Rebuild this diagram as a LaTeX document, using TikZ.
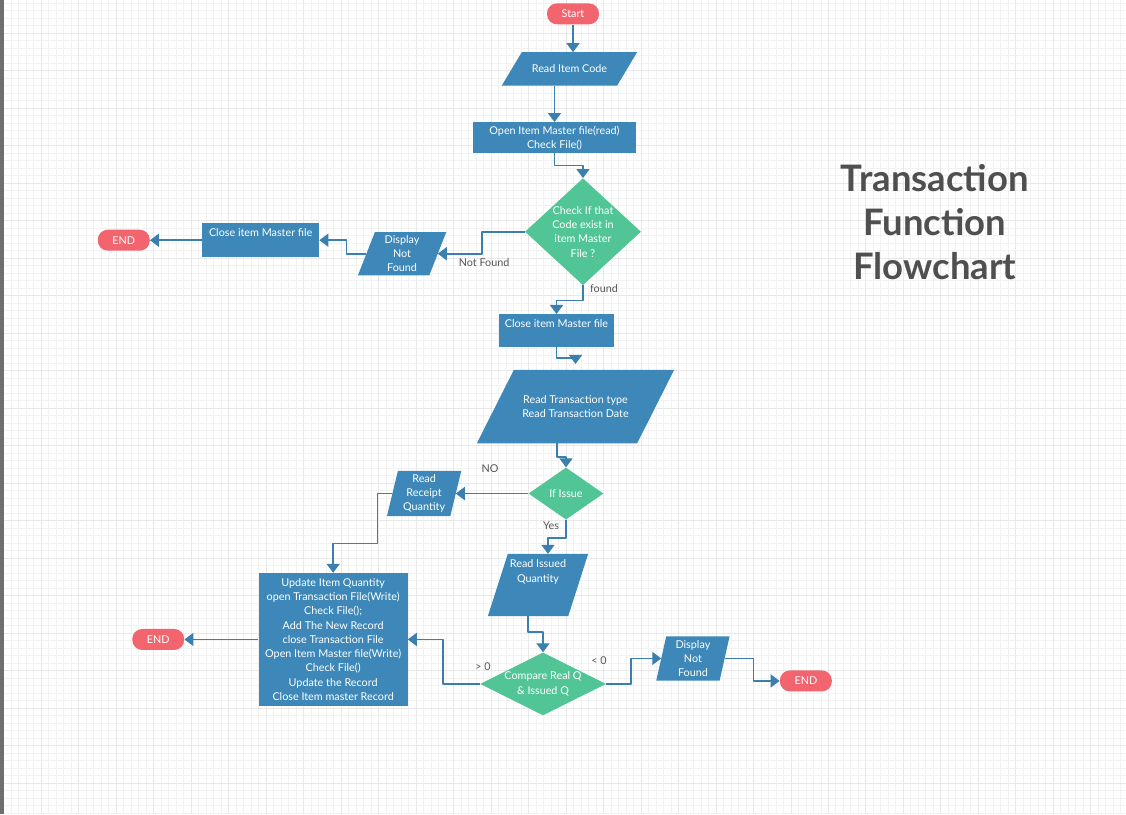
\documentclass[tikz,border=0pt]{standalone}
\usepackage{fontspec}
\setmainfont{Lato}
\usetikzlibrary{arrows.meta,shapes.geometric,backgrounds}
\definecolor{boxblue}{HTML}{3D88B8}
\definecolor{lineblue}{HTML}{3A7FAE}
\definecolor{decgreen}{HTML}{52C597}
\definecolor{termred}{HTML}{F2656F}
\definecolor{titlegray}{HTML}{4F4F4F}
\definecolor{lblgray}{HTML}{555555}
% parallelogram behind an io node: #1 node, #2 horizontal slant
\newcommand{\iofill}[2]{\fill[boxblue] ([xshift=#2/2]#1.north west) -- ([xshift=#2/2]#1.north east) -- ([xshift=-#2/2]#1.south east) -- ([xshift=-#2/2]#1.south west) -- cycle;}
\begin{document}
\begin{tikzpicture}[x=1pt, y=-1pt, line join=round, >={Triangle[width=13pt,length=9pt]},
    font=\fontsize{10.8}{14.25}\selectfont,
    proc/.style={rectangle, fill=boxblue, text=white, align=center, inner sep=2pt},
    io/.style={rectangle, text=white, align=center, inner sep=1pt},
    dec/.style={diamond, fill=decgreen, inner sep=0pt},
    term/.style={rectangle, rounded corners=10pt, fill=termred, text=white, minimum width=52pt, minimum height=21pt, inner sep=0pt},
    txt/.style={text=white, align=center, inner sep=2pt},
    lbl/.style={text=lblgray, inner sep=0pt},
    flow/.style={->, lineblue, line width=1.7pt}]
    % background grid
    \begin{scope}[on background layer]
    \fill[white] (0,0) rectangle (1126,814);
    \draw[black!5, line width=0.7pt, step=7.5pt, shift={(3.5,3)}] (-3.5,-3) grid (1122.5,811);
    \draw[black!9, line width=0.7pt, step=37.5pt, shift={(3.5,33)}] (-3.5,-33) grid (1122.5,781);
    \fill[black!57] (0,0) rectangle (3.5,814);
    \end{scope}
    \useasboundingbox (0,0) rectangle (1126,814);
    % title
    \node[text=titlegray, align=center, font=\fontsize{36.5}{44}\selectfont\bfseries] (title) at (935,222) {Transaction\\Function\\Flowchart};
    % nodes
    \node[term] (start) at (573,13.5) {Start};
    \node[io, minimum width=115pt, minimum height=33pt] (rc) at (569.5,68.5) {Read Item Code};
    \node[proc, minimum width=163pt, minimum height=31pt] (oim) at (554.5,137.5) {Open Item Master file(read)\\Check File()};
    \node[dec, minimum width=116pt, minimum height=107pt, label={[txt]center:Check If that\\Code exist in\\item Master\\File ?}] (chk) at (583,231.5) {};
    \node[io, minimum width=71pt, minimum height=43pt] (dnf1) at (402,253.5) {Display\\Not\\Found};
    \node[proc, minimum width=117pt, minimum height=34pt, label={[txt, anchor=north, yshift=-3pt]north:Close item Master file}] (cim1) at (260.5,240) {};
    \node[term] (end1) at (123.5,240) {END};
    \node[proc, minimum width=115pt, minimum height=33pt, label={[txt, anchor=north, yshift=-3pt]north:Close item Master file}] (cim2) at (556.5,330.5) {};
    \node[io, minimum width=160pt, minimum height=73pt] (rt) at (575.5,406.5) {Read Transaction type\\Read Transaction Date};
    \node[dec, minimum width=75pt, minimum height=52pt, label={[txt]center:If Issue}] (iss) at (566,493.5) {};
    \node[io, minimum width=63pt, minimum height=45pt] (rrq) at (424,493.5) {Read\\Receipt\\Quantity};
    \node[io, minimum width=80pt, minimum height=62pt, label={[txt, anchor=north, yshift=-4pt]north:Read Issued\\Quantity}] (riq) at (538,585) {};
    \node[proc, minimum width=149pt, minimum height=133pt] (upd) at (333,639.5) {Update Item Quantity\\open Transaction File(Write)\\Check File();\\Add The New Record\\close Transaction File\\Open Item Master file(Write)\\Check File()\\Update the Record\\Close Item master Record};
    \node[term] (end3) at (158,639.5) {END};
    \node[dec, minimum width=126pt, minimum height=63pt, label={[txt]center:Compare Real Q\\\& Issued Q}] (cmp) at (543,684) {};
    \node[io, minimum width=63pt, minimum height=44pt] (dnf2) at (693,658.5) {Display\\Not\\Found};
    \node[term] (end4) at (806,681) {END};
    \begin{scope}[on background layer]
    \iofill{rc}{20} \iofill{dnf1}{17} \iofill{rt}{37} \iofill{rrq}{11} \iofill{riq}{20} \iofill{dnf2}{10}
    \end{scope}
    % connectors
    \draw[flow] (start.south) -- (start.south |- rc.north);
    \draw[flow] (oim.north |- rc.south) -- (oim.north);
    \draw[flow] (oim.south) -- ++(0,12) -| (chk.north);
    \draw[flow] (chk.west) -- ++(-43,0) |- (dnf1.east);
    \draw[flow] (dnf1.west) -- ++(-20,0) |- (cim1.east);
    \draw[flow] (cim1.west) -- (end1.east);
    \draw[flow] (chk.south) -- ++(0,15) -| (cim2.north);
    \draw[flow, shorten >=6pt] (cim2.south) -- ++(0,11) -| (rt.north);
    \draw[flow] ([xshift=-18.5pt]rt.south) -- ++(0,14) -| (iss.north);
    \draw[flow] (iss.west) -- (iss.west -| rrq.east);
    \draw[flow] (rrq.west) -| ++(-15,50) -| (upd.north);
    \draw[flow] (iss.south) -- ++(0,18) -| ([xshift=10pt]riq.north);
    \draw[flow] ([xshift=-10pt]riq.south) -- ++(0,16) -| (cmp.north);
    \draw[flow] (cmp.west) -- ++(-37,0) |- (upd.east);
    \draw[flow] (upd.west) -- (end3.east);
    \draw[flow] (cmp.east) -- ++(25,0) |- (dnf2.west);
    \draw[flow] (dnf2.east) -- ++(29,0) |- (end4.west);
    % branch labels
    \node[lbl] (nfl) at (484,262) {Not Found};
    \node[lbl] (fdl) at (604,288) {found};
    \node[lbl] (nol) at (490,469) {NO};
    \node[lbl] (yesl) at (551,526) {Yes};
    \node[lbl] (gtl) at (483,667) {> 0};
    \node[lbl] (ltl) at (599,661) {< 0};
\end{tikzpicture}
\end{document}
